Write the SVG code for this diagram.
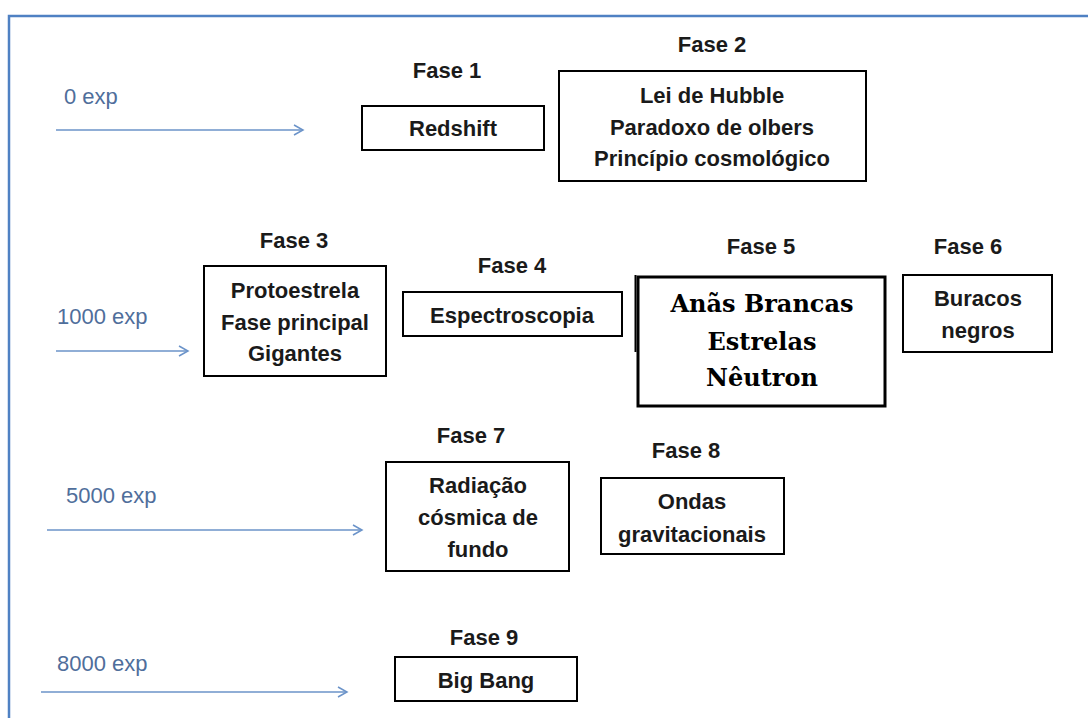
<svg xmlns="http://www.w3.org/2000/svg" width="1088" height="718" viewBox="0 0 1088 718">
<defs>
<marker id="ah" markerWidth="12" markerHeight="12" refX="10" refY="6" orient="auto" markerUnits="userSpaceOnUse">
<path d="M1,1 L10,6 L1,11" fill="none" stroke="#6b93c9" stroke-width="1.5"/>
</marker>
<style>
.box{fill:#fff;stroke:#000;stroke-width:2}
.t{font-family:"Liberation Sans",Arial,sans-serif;font-weight:bold;font-size:22px;fill:#1a1a1a;text-anchor:middle}
.s{font-family:"DejaVu Serif","Liberation Serif",serif;font-weight:bold;font-size:24px;fill:#000;text-anchor:middle}
.e{font-family:"Liberation Sans",Arial,sans-serif;font-size:22px;fill:#4f6e9b}
.ar{stroke:#6b93c9;stroke-width:1.5;fill:none}
</style>
</defs>
<rect width="1088" height="718" fill="#fff"/>
<path d="M9,718 V16 H1088" fill="none" stroke="#4f81c3" stroke-width="2.5"/>
<g id="connectors">
<line class="ar" x1="56" y1="130" x2="303" y2="130" marker-end="url(#ah)"/>
<line class="ar" x1="56" y1="351" x2="188" y2="351" marker-end="url(#ah)"/>
<line class="ar" x1="47" y1="530" x2="362" y2="530" marker-end="url(#ah)"/>
<line class="ar" x1="41" y1="692" x2="347" y2="692" marker-end="url(#ah)"/>
</g>
<g id="labels">
<text class="e" x="64" y="104">0 exp</text>
<text class="e" x="57" y="324">1000 exp</text>
<text class="e" x="66" y="503">5000 exp</text>
<text class="e" x="57" y="671">8000 exp</text>
</g>
<g id="fase1">
<text class="t" x="447" y="78">Fase 1</text>
<rect class="box" x="362" y="106" width="182" height="44"/>
<text class="t" x="453" y="136">Redshift</text>
</g>
<g id="fase2">
<text class="t" x="712" y="52">Fase 2</text>
<rect class="box" x="559" y="71" width="307" height="110"/>
<text class="t" x="712" y="103">Lei de Hubble</text>
<text class="t" x="712" y="135">Paradoxo de olbers</text>
<text class="t" x="712" y="166">Princípio cosmológico</text>
</g>
<g id="fase3">
<text class="t" x="294" y="248">Fase 3</text>
<rect class="box" x="204" y="266" width="182" height="110"/>
<text class="t" x="295" y="298">Protoestrela</text>
<text class="t" x="295" y="330">Fase principal</text>
<text class="t" x="295" y="361">Gigantes</text>
</g>
<g id="fase4">
<text class="t" x="512" y="273">Fase 4</text>
<rect class="box" x="403" y="292" width="219" height="44"/>
<text class="t" x="512" y="323">Espectroscopia</text>
</g>
<g id="fase5">
<text class="t" x="761" y="254">Fase 5</text>
<line x1="635.5" y1="275" x2="635.5" y2="352" stroke="#000" stroke-width="2"/>
<rect x="638" y="277" width="247" height="129" fill="#fff" stroke="#000" stroke-width="3"/>
<text class="s" x="762" y="312">Anãs Brancas</text>
<text class="s" x="762" y="350">Estrelas</text>
<text class="s" x="762" y="386">Nêutron</text>
</g>
<g id="fase6">
<text class="t" x="968" y="254">Fase 6</text>
<rect class="box" x="903" y="275" width="149" height="77"/>
<text class="t" x="978" y="306">Buracos</text>
<text class="t" x="978" y="338">negros</text>
</g>
<g id="fase7">
<text class="t" x="471" y="443">Fase 7</text>
<rect class="box" x="386" y="462" width="183" height="109"/>
<text class="t" x="478" y="493">Radiação</text>
<text class="t" x="478" y="525">cósmica de</text>
<text class="t" x="478" y="557">fundo</text>
</g>
<g id="fase8">
<text class="t" x="686" y="458">Fase 8</text>
<rect class="box" x="601" y="478" width="183" height="76"/>
<text class="t" x="692" y="509">Ondas</text>
<text class="t" x="692" y="542">gravitacionais</text>
</g>
<g id="fase9">
<text class="t" x="484" y="645">Fase 9</text>
<rect class="box" x="395" y="657" width="182" height="44"/>
<text class="t" x="486" y="688">Big Bang</text>
</g>
</svg>
